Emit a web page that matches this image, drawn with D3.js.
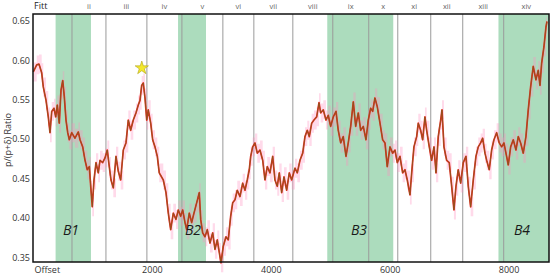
<!DOCTYPE html>
<html><head><meta charset="utf-8">
<script src="https://cdn.jsdelivr.net/npm/d3@7"></script>
<style>body{margin:0;background:#fff}svg{display:block}text{font-family:"Open Sans","DejaVu Sans",sans-serif}</style>
</head><body><svg id="c" width="550" height="278"></svg>
<script>
const offsets = [5,62,101,146,173,219,257,286,315,353,382,409,442,471,500,526,555,584,611,651,706,762,791,836,875,913,947,976,997,1026,1060,1098,1127,1172,1211,1250,1283,1312,1351,1396,1435,1475,1519,1564,1603,1643,1687,1732,1771,1800,1828,1855,1884,1913,1939,1980,2013,2052,2091,2124,2192,2237,2276,2316,2360,2405,2444,2484,2518,2557,2585,2629,2669,2708,2753,2797,2821,2854,2893,2932,2977,3023,3061,3100,3134,3162,3201,3246,3285,3325,3359,3398,3436,3482,3527,3566,3604,3638,3662,3695,3734,3773,3818,3864,3902,3941,3986,4032,4070,4109,4143,4183,4222,4267,4311,4351,4407,4446,4491,4537,4575,4614,4648,4688,4726,4772,4811,4839,4883,4928,4967,5007,5051,5097,5135,5176,5219,5265,5303,5344,5388,5428,5472,5512,5556,5601,5640,5680,5714,5752,5791,5837,5882,5921,5959,6005,6050,6089,6128,6173,6218,6257,6296,6341,6370,6408,6454,6481,6521,6555,6593,6622,6666,6706,6745,6779,6817,6858,6880,6913,6958,7002,7043,7081,7115,7153,7194,7238,7283,7322,7362,7406,7451,7490,7530,7564,7603,7631,7675,7715,7754,7799,7843,7884,7922,7956,7995,8035,8079,8124,8163,8203,8247,8292,8331,8371,8415,8460,8499,8528,8556,8595,8629,8646];
const ratios = [0.585,0.594,0.595,0.584,0.566,0.549,0.528,0.508,0.535,0.539,0.528,0.543,0.520,0.562,0.574,0.554,0.524,0.508,0.499,0.508,0.501,0.509,0.499,0.490,0.473,0.461,0.465,0.435,0.414,0.448,0.470,0.457,0.473,0.470,0.476,0.486,0.465,0.448,0.438,0.478,0.459,0.448,0.486,0.495,0.524,0.511,0.524,0.533,0.543,0.549,0.568,0.571,0.552,0.524,0.537,0.520,0.499,0.490,0.478,0.457,0.448,0.432,0.406,0.385,0.406,0.398,0.410,0.402,0.410,0.394,0.385,0.406,0.394,0.406,0.419,0.432,0.398,0.381,0.376,0.385,0.368,0.381,0.360,0.372,0.356,0.343,0.364,0.376,0.372,0.402,0.419,0.423,0.435,0.427,0.444,0.435,0.448,0.461,0.478,0.490,0.495,0.482,0.486,0.473,0.448,0.465,0.457,0.478,0.448,0.440,0.457,0.432,0.452,0.435,0.457,0.448,0.463,0.457,0.473,0.482,0.503,0.511,0.503,0.520,0.524,0.528,0.546,0.533,0.537,0.524,0.530,0.516,0.528,0.535,0.511,0.495,0.503,0.478,0.495,0.516,0.547,0.516,0.533,0.511,0.516,0.499,0.524,0.539,0.535,0.552,0.541,0.520,0.499,0.495,0.465,0.490,0.482,0.486,0.470,0.478,0.457,0.461,0.448,0.429,0.457,0.490,0.503,0.520,0.511,0.499,0.528,0.511,0.490,0.473,0.490,0.457,0.503,0.524,0.537,0.490,0.473,0.470,0.440,0.410,0.440,0.461,0.444,0.470,0.478,0.440,0.414,0.448,0.478,0.490,0.495,0.501,0.482,0.473,0.461,0.486,0.499,0.508,0.495,0.490,0.495,0.482,0.467,0.490,0.499,0.486,0.503,0.495,0.482,0.503,0.537,0.566,0.592,0.575,0.587,0.568,0.596,0.617,0.642,0.649];
const fittLabels = ["Fitt","ii","iii","iv","v","vi","vii","viii","ix","x","xi","xii","xiii","xiv"];
const fittBounds = [656,1227,1916,2505,3194,3715,4371,5043,5648,6136,6691,7229,7918];
const bandNames = ["B1","B2","B3","B4"];
const bandStart = [380,2440,4950,7830];
const bandEnd = [975,2910,6060,8680];
const yTicks = [0.35,0.40,0.45,0.50,0.55,0.60,0.65];
const xTicks = [0,2000,4000,6000,8000];
const xTickLabels = ["Offset","2000","4000","6000","8000"];
const starPoint = {offset:1830, ratio:0.590};

const svg = d3.select("#c");
const L=33,R=549,T=14,B=262;
const x = d3.scaleLinear().domain([0,8680]).range([L,R]);
const y = d3.scaleLinear().domain([0.344,0.6585]).range([B,T]);
const data = offsets.map((o,i)=>({o, v:ratios[i]}));
const allB = [0, ...fittBounds, 8680];

svg.selectAll("rect.band").data(bandStart).join("rect")
  .attr("x",(d)=>x(d)).attr("y",T).attr("width",(d,i)=>x(bandEnd[i])-x(d)).attr("height",B-T)
  .attr("fill","#acdcbd");
svg.selectAll("line.fb").data(fittBounds).join("line")
  .attr("x1",d=>x(d)).attr("x2",d=>x(d)).attr("y1",T).attr("y2",B)
  .attr("stroke","#9a9a9a").attr("stroke-width",1);
svg.selectAll("text.fl").data(fittLabels).join("text")
  .attr("x",(d,i)=> i===0 ? 34 : (x(allB[i])+x(allB[i+1]))/2)
  .attr("y",9).attr("text-anchor",(d,i)=>i===0?"start":"middle")
  .attr("fill",(d,i)=>i===0?"#222":"#666")
  .style("font-size",(d,i)=>i===0?"9px":"7.5px")
  .text(d=>d);

const area = d3.area().x(d=>x(d.o)).y0(d=>y(d.v-0.012)).y1(d=>y(d.v+0.012)).curve(d3.curveStepAfter);
svg.append("path").datum(data).attr("d",area).attr("fill","#ff8fc0").attr("opacity",0.33);
const line = d3.line().x(d=>x(d.o)).y(d=>y(d.v));
svg.append("path").datum(data).attr("d",line).attr("fill","none").attr("stroke","#ee2a22").attr("stroke-width",1.7).attr("stroke-linejoin","round");
svg.append("path").datum(data).attr("d",line).attr("fill","none").attr("stroke","#7d5a1c").attr("stroke-width",0.8).attr("stroke-linejoin","round");

svg.selectAll("text.bl").data(bandNames).join("text")
  .attr("x",(d,i)=>[71,193,359,522][i]).attr("y",y(0.385)+5)
  .attr("text-anchor","middle").style("font-size","14px").style("font-style","italic").attr("fill","#1a1a1a").text(d=>d);

svg.append("path").attr("d",d3.symbol().type(d3.symbolStar).size(55)())
  .attr("transform",`translate(${x(starPoint.offset)},${y(starPoint.ratio)})`)
  .attr("fill","#f3e82c").attr("stroke","#b0a21a").attr("stroke-width",0.6);

svg.append("rect").attr("x",L).attr("y",T).attr("width",R-L).attr("height",B-T).attr("fill","none").attr("stroke","#111").attr("stroke-width",1.5);

const ya = svg.append("g").attr("transform",`translate(${L},0)`).call(d3.axisLeft(y).tickValues(yTicks).tickFormat(d3.format(".2f")).tickSize(0).tickPadding(3));
ya.select(".domain").remove();
ya.selectAll("text").style("font-size","9px").attr("fill","#333");
const xa = svg.append("g").attr("transform",`translate(0,${B})`).call(d3.axisBottom(x).tickValues(xTicks).tickFormat((d,i)=>xTickLabels[i]).tickSize(0).tickPadding(5));
xa.select(".domain").remove();
xa.selectAll("text").style("font-size","9px").attr("fill","#333");
xa.selectAll("text").filter((d,i)=>i===0).attr("text-anchor","start").attr("x",1);

svg.append("text").attr("transform","translate(11,140) rotate(-90)").attr("text-anchor","middle")
  .style("font-size","9px").attr("fill","#333").text("p/(p+δ) Ratio");
</script></body></html>
